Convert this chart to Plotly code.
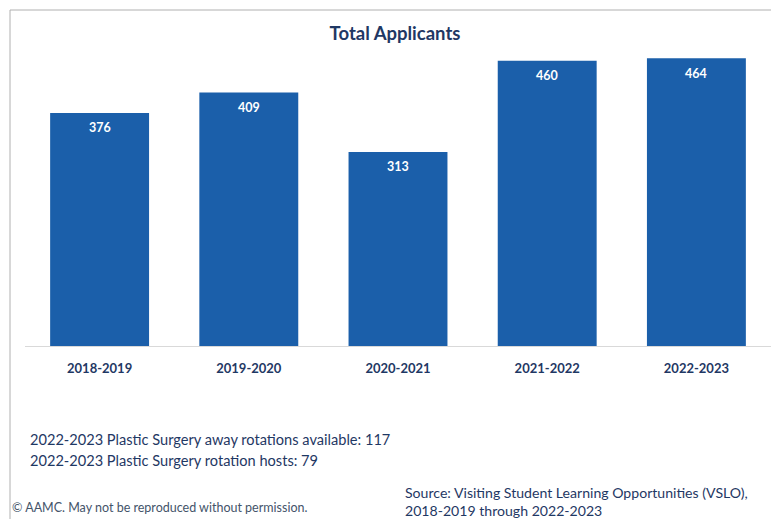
import plotly.graph_objects as go

categories = ["2018-2019", "2019-2020", "2020-2021", "2021-2022", "2022-2023"]
applicants = [376, 409, 313, 460, 464]
title_text = "Total Applicants"
note_lines = [
    "2022-2023 Plastic Surgery away rotations available: 117",
    "2022-2023 Plastic Surgery rotation hosts: 79",
]
copyright_text = "© AAMC. May not be reproduced without permission."
source_lines = [
    "Source: Visiting Student Learning Opportunities (VSLO),",
    "2018-2019 through 2022-2023",
]

FONT = "Lato"
NAVY = "#1F3864"
BAR = "#1B5FAA"

fig = go.Figure()
fig.add_trace(go.Bar(
    x=categories, y=applicants, marker=dict(color=BAR, line=dict(width=0)),
    hoverinfo="x+y",
))

annotations = []
for c, v in zip(categories, applicants):
    annotations.append(dict(x=c, y=v, xref="x", yref="y", text=f"<b>{v}</b>",
                            showarrow=False, yanchor="middle", yshift=-15,
                            font=dict(family=FONT, size=12.5, color="white")))

def px2x(px):
    return (px - 25) / 746

def px2y(py):
    return (346 - py) / 310

annotations.append(dict(x=px2x(28), y=px2y(439), xref="paper", yref="paper", text=note_lines[0],
                        showarrow=False, xanchor="left", yanchor="middle",
                        font=dict(family=FONT, size=14.6, color=NAVY)))
annotations.append(dict(x=px2x(28), y=px2y(460), xref="paper", yref="paper", text=note_lines[1],
                        showarrow=False, xanchor="left", yanchor="middle",
                        font=dict(family=FONT, size=14.6, color=NAVY)))
annotations.append(dict(x=px2x(10), y=px2y(508), xref="paper", yref="paper", text=copyright_text,
                        showarrow=False, xanchor="left", yanchor="middle",
                        font=dict(family=FONT, size=12.5, color="#44546A")))
annotations.append(dict(x=px2x(403), y=px2y(492), xref="paper", yref="paper", text=source_lines[0],
                        showarrow=False, xanchor="left", yanchor="middle",
                        font=dict(family=FONT, size=14.1, color=NAVY)))
annotations.append(dict(x=px2x(403), y=px2y(510), xref="paper", yref="paper", text=source_lines[1],
                        showarrow=False, xanchor="left", yanchor="middle",
                        font=dict(family=FONT, size=14.1, color=NAVY)))

fig.update_layout(
    width=771, height=511,
    margin=dict(l=17, r=8, t=28, b=173),
    paper_bgcolor="white", plot_bgcolor="white",
    bargap=0.337,
    showlegend=False,
    title=dict(text=f"<b>{title_text}</b>", x=px2x(395), xref="paper", xanchor="center",
               y=1 - 26 / 511, yref="container", yanchor="middle",
               font=dict(family=FONT, size=18.5, color=NAVY)),
    xaxis=dict(showgrid=False, showline=True, linecolor="#D9D9D9", linewidth=1,
               ticks="", tickfont=dict(family=FONT, size=13, color=NAVY, weight="bold"),
               ticklabelstandoff=10),
    yaxis=dict(range=[0, 500], visible=False),
    annotations=annotations,
    shapes=[
        dict(type="line", xref="paper", yref="paper", x0=px2x(10), x1=px2x(790), y0=px2y(10), y1=px2y(10),
             line=dict(color="#B0B0B0", width=1)),
        dict(type="line", xref="paper", yref="paper", x0=px2x(10), x1=px2x(10), y0=px2y(10), y1=px2y(530),
             line=dict(color="#B0B0B0", width=1)),
    ],
)

fig.write_html("out.html")
